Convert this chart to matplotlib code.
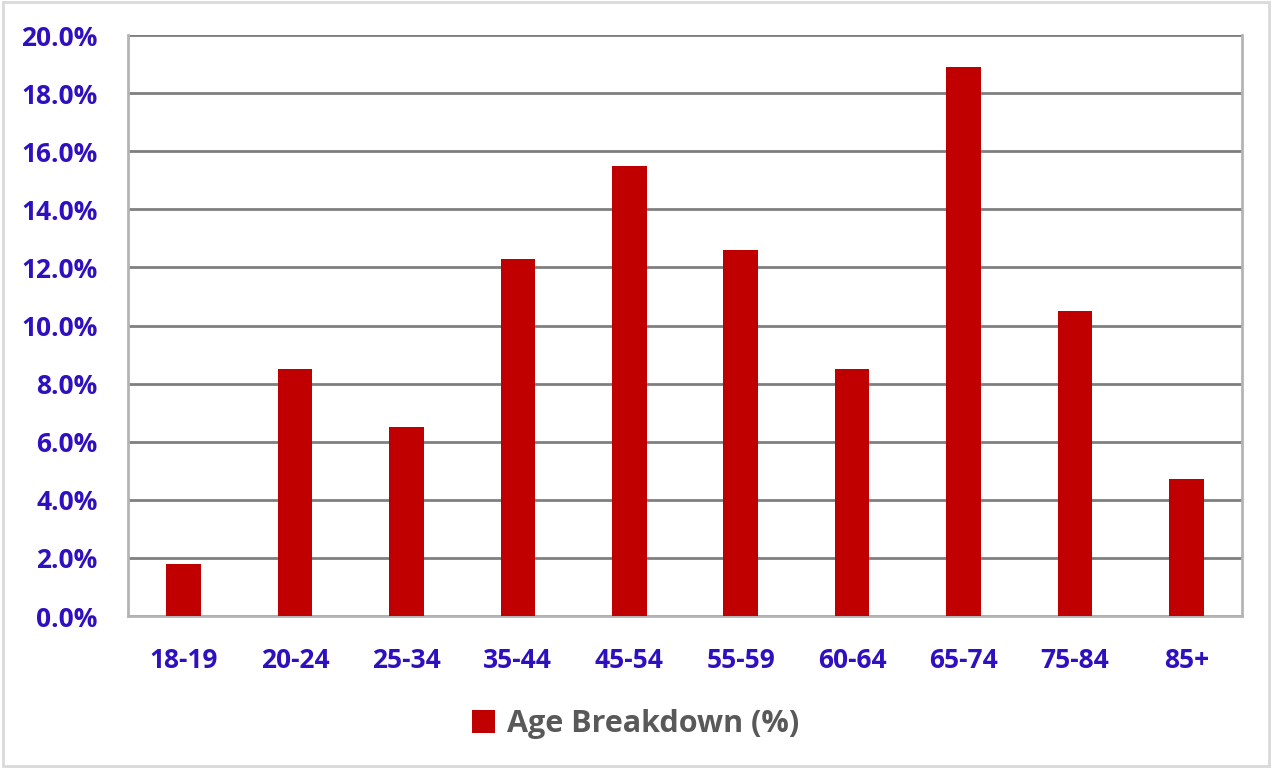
import matplotlib.pyplot as plt
from matplotlib.patches import Rectangle
from matplotlib.ticker import FuncFormatter, MultipleLocator

# dados do gráfico
faixas = ["18-19", "20-24", "25-34", "35-44", "45-54", "55-59", "60-64", "65-74", "75-84", "85+"]
percentuais = [1.8, 8.5, 6.5, 12.3, 15.5, 12.6, 8.5, 18.9, 10.5, 4.7]
nome_serie = "Age Breakdown (%)"

cor_barra = "#C00000"
cor_texto = "#2E10C0"

plt.rcParams['font.family'] = ['Open Sans', 'DejaVu Sans']

fig = plt.figure(figsize=(12.72, 7.68), dpi=100)
ax = fig.add_axes([0.1006, 0.1979, 0.8758, 0.7565])

x = range(len(faixas))
ax.bar(x, percentuais, width=0.31, color=cor_barra, zorder=3, label=nome_serie)

ax.set_xlim(-0.5, len(faixas) - 0.5)
ax.set_ylim(0, 20)
ax.yaxis.set_major_locator(MultipleLocator(2))
ax.yaxis.set_major_formatter(FuncFormatter(lambda v, p: f"{v:.1f}%"))
ax.set_xticks(list(x))
ax.set_xticklabels(faixas)

# grade horizontal
ax.grid(axis='y', color='#7F7F7F', linewidth=2, zorder=0)
for lado in ['left', 'right', 'bottom']:
    ax.spines[lado].set_color('#B4B4B4')
    ax.spines[lado].set_linewidth(2)
ax.spines['top'].set_visible(False)

ax.tick_params(axis='both', length=0, labelcolor=cor_texto, labelsize=19)
ax.tick_params(axis='y', pad=22)
ax.tick_params(axis='x', pad=22)
for rotulo in ax.get_xticklabels() + ax.get_yticklabels():
    rotulo.set_fontweight('bold')

# legenda
leg = fig.legend(loc='center', bbox_to_anchor=(0.5, 0.057), frameon=False,
                 handlelength=0.75, handleheight=0.75, handletextpad=0.4,
                 prop={'size': 22, 'weight': 'bold'})
for t in leg.get_texts():
    t.set_color('#595959')

# borda da figura
fig.patches.append(Rectangle((0.002, 0.002), 0.996, 0.995, transform=fig.transFigure,
                             fill=False, edgecolor='#D9D9D9', linewidth=2))

fig.savefig("out.png", dpi=100)
